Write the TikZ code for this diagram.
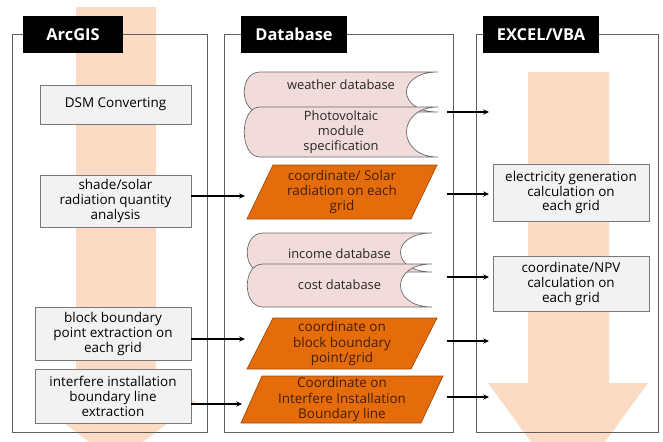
\documentclass[tikz,border=0pt]{standalone}
\usepackage{fontspec}
\setmainfont{Open Sans}
\usepackage{tikz}
\usetikzlibrary{arrows.meta}

\definecolor{peach}{RGB}{251,219,195}
\definecolor{boxfill}{RGB}{242,242,242}
\definecolor{boxline}{RGB}{120,120,120}
\definecolor{framegray}{RGB}{95,95,95}
\definecolor{dbpink}{RGB}{242,220,219}
\definecolor{dbline}{RGB}{105,105,105}
\definecolor{parorange}{RGB}{228,108,10}
\definecolor{parline}{RGB}{160,75,10}
\definecolor{partext}{RGB}{72,30,0}

\tikzset{
  panel/.style={draw=framegray, line width=0.6pt},
  tag/.style={fill=black, text=white, inner sep=0pt, font=\bfseries\fontsize{14}{16}\selectfont},
  procbox/.style={draw=boxline, fill=boxfill, line width=0.6pt, align=center, inner sep=0pt,
    font=\fontsize{11.5}{12.8}\selectfont},
  dbshape/.style={fill=dbpink, draw=dbline, line width=0.6pt},
  dbtxt/.style={align=center, text=black!85, inner sep=0pt, font=\fontsize{11}{12.8}\selectfont},
  datapar/.style={fill=parorange, draw=parline, line width=0.6pt},
  datatxt/.style={align=center, text=partext, inner sep=0pt, font=\fontsize{11.5}{13}\selectfont},
  flow/.style={-{Stealth[length=5pt,width=4.5pt]}, line width=0.9pt}
}

\begin{document}
\begin{tikzpicture}[x=0.03cm, y=-0.03cm]
    \useasboundingbox (0,0) rectangle (663,442);
    \clip (0,0) rectangle (663,442);
    % big flow arrows behind everything
    \fill[peach] (76,7) -- (156,7) -- (156,401) -- (196,401) -- (116,463) -- (36,401) -- (76,401) -- cycle;
    \fill[peach] (528,72) -- (609,72) -- (609,383) -- (648,383) -- (568,493) -- (488,383) -- (528,383) -- cycle;
    % panels
    \foreach \xa/\xb in {12/207, 224/453, 476/658}{
        \draw[panel] (\xa,34) rectangle (\xb,432);
    }
    \node[tag, minimum width=3cm, minimum height=1.11cm] (arcgis) at (73,34.5) {ArcGIS};
    \node[tag, minimum width=3.18cm, minimum height=1.11cm] (database) at (294,34.5) {Database};
    \node[tag, minimum width=3.48cm, minimum height=1.11cm] (excel) at (541,34.5) {EXCEL/VBA};
    % stored data
    \foreach \nm/\xa/\xb/\ya/\yb/\yt/\txt in {wdb/244/438/72/112/85/{weather database},
        pv/244/438/107/157/132/{Photovoltaic\\module\\specification},
        idb/247/432/233/272/254/{income database},
        cdb/247/432/264/307/285/{cost database}}{
        \filldraw[dbshape] (\xa+16,\ya) -- (\xb,\ya) .. controls (\xb-42,\ya) and (\xb-42,\yb) .. (\xb,\yb)
            -- (\xa+16,\yb) .. controls (\xa-5,\yb) and (\xa-5,\ya) .. (\xa+16,\ya) -- cycle;
        \node[dbtxt] (\nm) at ({(\xa+\xb)/2},\yt) {\txt};
    }
    % data
    \filldraw[datapar] (273,165) -- (437,165) -- (411,219) -- (247,219) -- cycle;
    \node[datatxt] (solar) at (342,192) {coordinate/ Solar\\radiation on each\\grid};
    \filldraw[datapar] (273,318) -- (437,318) -- (411,369) -- (247,369) -- cycle;
    \node[datatxt] (bpt) at (342,343.5) {coordinate on\\block boundary\\point/grid};
    \filldraw[datapar] (262,376) -- (443,376) -- (421,423) -- (241,423) -- cycle;
    \node[datatxt] (iline) at (342,399.5) {Coordinate on\\Interfere Installation\\Boundary line};
    % processes
    \node[procbox, minimum width=4.53cm, minimum height=1.17cm] (dsm) at (115.5,104.5) {DSM Converting};
    \node[procbox, minimum width=4.53cm, minimum height=1.56cm] (shade) at (115.5,201) {shade/solar\\radiation quantity\\analysis};
    \node[procbox, minimum width=4.68cm, minimum height=1.59cm] (block) at (113,333.5) {block boundary\\point extraction on\\each grid};
    \node[procbox, minimum width=4.68cm, minimum height=1.62cm] (intf) at (113,396) {interfere installation\\boundary line\\extraction};
    \node[procbox, minimum width=4.68cm, minimum height=1.71cm] (elec) at (571,192.5) {electricity generation\\calculation on\\each grid};
    \node[procbox, minimum width=4.68cm, minimum height=1.65cm] (npv) at (571,283.5) {coordinate/NPV\\calculation on\\each grid};
    % connectors
    \foreach \src/\y/\xe [count=\i] in {shade/196/245, block/339/245, intf/404/242}{
        \coordinate (in\i) at (\xe,\y);
        \draw[flow] (\src.east |- in\i) -- (in\i);
    }
    \foreach \nm/\y in {pv/112, solar/194, cdb/277, bpt/341, iline/397}{
        \coordinate (\nm-out) at (447,\y);
        \coordinate (\nm-in) at (489,\y);
        \draw[flow] (\nm-out) -- (\nm-in);
    }
\end{tikzpicture}
\end{document}
